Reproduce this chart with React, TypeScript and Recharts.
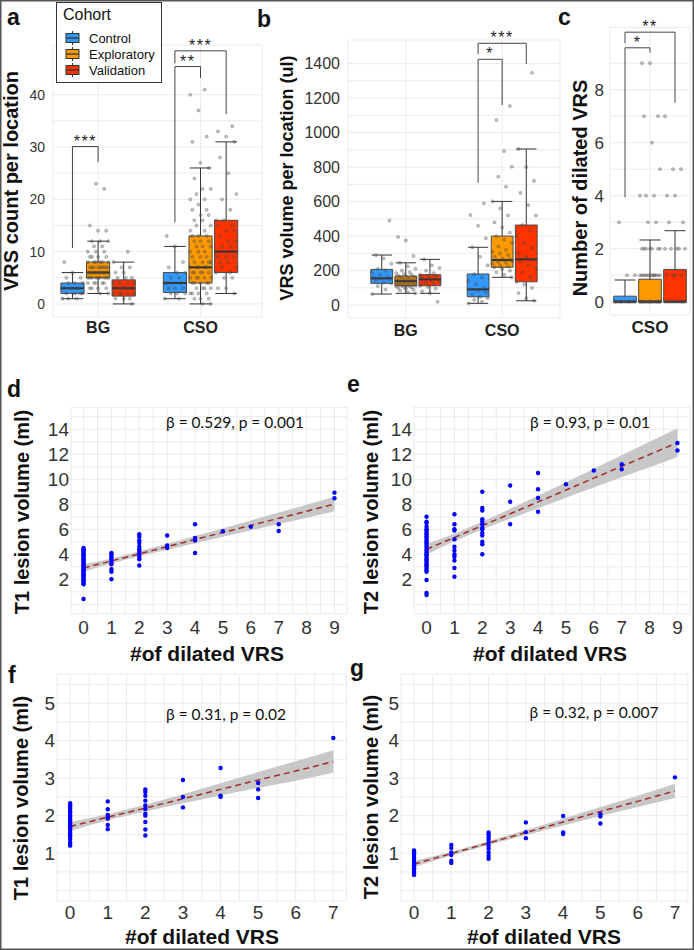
import React from 'react';
import {
  ComposedChart, Scatter, XAxis, YAxis, CartesianGrid, ReferenceArea,
  ReferenceLine, ReferenceDot, Area, Line, Legend,
} from 'recharts';

const FONT = "'Liberation Sans', Arial, sans-serif";

// ---------- categories ----------
const cohortNames = ['Control', 'Exploratory', 'Validation'];
const cohortColors = ['#3399FF', '#FF9900', '#FF3300'];
const locationNames = ['BG', 'CSO'];
const dilatedLocationNames = ['CSO'];

// ---------- panel a : VRS count per location ----------
// box stats per cohort: [min, q1, median, q3, max]
const countStatsBG = [[1, 2, 3, 4, 6], [2, 5, 6, 8, 12], [0, 1.5, 3, 4.6, 8]];
const countStatsCSO = [[1, 2.2, 4, 6, 11], [0, 4, 7, 13, 26], [2, 6, 10, 16, 31]];
const countPointsBG = [
  [1, 1, 1, 2, 2, 2, 2, 3, 3, 3, 3, 3, 3, 4, 4, 4, 5, 5, 6, 8],
  [2, 2, 3, 3, 3, 3, 4, 4, 4, 4, 4, 5, 5, 5, 5, 5, 5, 5, 5, 5, 6, 6, 6, 6, 6, 6, 6, 6, 6, 6, 6, 7, 7, 7, 7, 7, 7, 7, 7, 7, 8, 8, 8, 8, 8, 8, 9, 9, 9, 9, 10, 10, 10, 11, 11, 12, 12, 12, 14, 14, 15, 22, 23],
  [0, 1, 1, 1, 2, 2, 2, 2, 2, 3, 3, 3, 3, 3, 3, 3, 4, 4, 4, 4, 5, 5, 5, 6, 6, 7, 7, 8, 10],
];
const countPointsCSO = [
  [1, 1, 2, 2, 2, 3, 3, 3, 4, 4, 4, 4, 5, 5, 6, 6, 7, 8, 11, 13],
  [0, 0, 1, 1, 1, 2, 2, 2, 2, 3, 3, 3, 3, 4, 4, 4, 4, 4, 5, 5, 5, 5, 5, 6, 6, 6, 6, 6, 7, 7, 7, 7, 7, 8, 8, 8, 8, 9, 9, 9, 10, 10, 10, 11, 11, 11, 12, 12, 12, 13, 13, 13, 14, 14, 15, 15, 16, 16, 17, 17, 18, 18, 19, 20, 20, 21, 22, 22, 24, 26, 27, 31, 32, 37, 40, 41],
  [2, 3, 3, 5, 5, 6, 6, 7, 7, 8, 8, 9, 9, 9, 10, 10, 10, 11, 11, 12, 12, 13, 14, 14, 15, 15, 16, 16, 18, 20, 21, 25, 28, 31, 32, 33, 34],
];
const countTicks = [0, 5, 10, 15, 20, 25, 30, 35, 40];
const countLabels = [0, 10, 20, 30, 40];
const countBrackets = [
  { loc: 0, from: 0, to: 1, top: 30.1, leftEnd: 10.7, rightEnd: 27.1, label: '***' },
  { loc: 1, from: 0, to: 1, top: 45.4, leftEnd: 15.6, rightEnd: 43.2, label: '**' },
  { loc: 1, from: 0, to: 2, top: 48.4, leftEnd: 46.0, rightEnd: 36.3, label: '***' },
];

// ---------- panel b : VRS volume per location ----------
const volumeStatsBG = [[64, 126, 155, 207, 290], [68, 112, 139, 168, 245], [68, 112, 149, 176, 265]];
const volumeStatsCSO = [[10, 48, 91, 180, 335], [161, 219, 261, 400, 601], [25, 135, 265, 464, 905]];
const volumePointsBG = [
  [64, 90, 110, 125, 130, 140, 150, 155, 160, 165, 175, 190, 200, 210, 240, 270, 290, 490],
  [68, 75, 85, 90, 95, 100, 102, 105, 108, 110, 112, 114, 115, 118, 120, 122, 124, 125, 128, 130, 132, 134, 135, 137, 139, 140, 142, 144, 145, 148, 150, 152, 155, 158, 160, 163, 165, 168, 170, 175, 180, 185, 190, 200, 210, 225, 245, 285, 375, 395],
  [19, 68, 80, 95, 105, 112, 120, 128, 135, 140, 145, 149, 152, 158, 165, 170, 176, 185, 200, 215, 230, 265],
];
const volumePointsCSO = [
  [10, 20, 30, 40, 48, 60, 75, 85, 91, 100, 120, 140, 160, 180, 230, 280, 335, 387, 460, 522, 590],
  [161, 175, 190, 200, 210, 219, 225, 230, 240, 245, 250, 255, 260, 261, 265, 270, 280, 290, 300, 310, 320, 340, 360, 380, 400, 420, 450, 480, 520, 560, 601, 686, 744, 802, 893, 1073, 1154],
  [25, 40, 70, 100, 120, 135, 160, 190, 210, 230, 250, 265, 280, 300, 330, 360, 400, 430, 464, 520, 580, 650, 720, 800, 905, 1347],
];
const volumeTicks = [0, 100, 200, 300, 400, 500, 600, 700, 800, 900, 1000, 1100, 1200, 1300, 1400];
const volumeLabels = [0, 200, 400, 600, 800, 1000, 1200, 1400];
const volumeBrackets = [
  { loc: 1, from: 0, to: 2, top: 1518, leftEnd: 1454, rightEnd: 1398, label: '***' },
  { loc: 1, from: 0, to: 1, top: 1425, leftEnd: 709, rightEnd: 1160, label: '*' },
];

// ---------- panel c : number of dilated VRS ----------
const dilatedStatsCSO = [[0, 0, 0, 0.21, 0.82], [0, 0, 0, 0.85, 2.33], [0, 0, 0, 1.22, 2.68]];
const dilatedPointsCSO = [
  [0, 0, 0, 0, 0, 0, 0, 0, 0, 0, 0, 0, 0, 0, 1, 1, 3],
  [0, 0, 0, 0, 0, 0, 0, 0, 0, 0, 0, 0, 0, 0, 0, 0, 0, 0, 0, 0, 1, 1, 1, 1, 1, 1, 1, 1, 1, 1, 1, 1, 2, 2, 2, 2, 2, 2, 2, 3, 3, 4, 4, 4, 5, 6, 7, 7, 9, 9],
  [0, 0, 0, 0, 0, 0, 0, 0, 0, 0, 0, 0, 1, 1, 1, 1, 2, 2, 2, 2, 2, 3, 3, 4, 4, 5, 5, 7],
];
const dilatedTicks = [0, 1, 2, 3, 4, 5, 6, 7, 8, 9];
const dilatedLabels = [0, 2, 4, 6, 8];
const dilatedBrackets = [
  { loc: 0, from: 0, to: 2, top: 10.17, leftEnd: 9.75, rightEnd: 7.51, label: '**' },
  { loc: 0, from: 0, to: 1, top: 9.58, leftEnd: 3.94, rightEnd: 9.4, label: '*' },
];

// ---------- panels d-g : lesion volume vs # dilated VRS ----------
const fitX9 = [0, 1, 2, 3, 4, 5, 6, 7, 8, 9];
const fitX7 = [0, 1, 2, 3, 4, 5, 6, 7];
const t1FitA = [2.9, 3.47, 4.04, 4.61, 5.18, 5.75, 6.31, 6.88, 7.45, 8.02];
const t1LowA = [2.6, 3.27, 3.84, 4.37, 4.89, 5.41, 5.91, 6.42, 6.93, 7.44];
const t1HighA = [3.2, 3.67, 4.24, 4.85, 5.47, 6.09, 6.71, 7.34, 7.97, 8.6];
const t2FitA = [4.4, 5.35, 6.3, 7.24, 8.19, 9.14, 10.09, 11.04, 11.98, 12.93];
const t2LowA = [3.98, 5.05, 5.98, 6.84, 7.69, 8.52, 9.34, 10.16, 10.96, 11.78];
const t2HighA = [4.82, 5.65, 6.62, 7.64, 8.69, 9.76, 10.84, 11.92, 13.0, 14.08];
const t1FitB = [1.71, 1.96, 2.2, 2.45, 2.7, 2.95, 3.19, 3.44];
const t1LowB = [1.59, 1.88, 2.11, 2.33, 2.54, 2.74, 2.93, 3.14];
const t1HighB = [1.83, 2.04, 2.29, 2.57, 2.86, 3.16, 3.45, 3.74];
const t2FitB = [0.71, 0.99, 1.27, 1.55, 1.83, 2.11, 2.38, 2.66];
const t2LowB = [0.63, 0.94, 1.22, 1.48, 1.74, 1.99, 2.23, 2.47];
const t2HighB = [0.79, 1.04, 1.32, 1.62, 1.92, 2.23, 2.53, 2.85];

// points grouped by # of dilated VRS: [x, [volumes]]
const t1PointsA: [number, number[]][] = [
  [0, [0.42, 1.6, 1.7, 1.8, 1.9, 2.0, 2.1, 2.2, 2.3, 2.4, 2.5, 2.6, 2.7, 2.8, 2.9, 3.0, 3.1, 3.2, 3.3, 3.4, 3.5, 3.6, 3.7, 3.8, 3.9, 4.0, 4.1, 4.2, 4.3, 4.4, 4.5]],
  [1, [4.1, 4.0, 3.8, 3.7, 3.5, 3.3, 3.2, 2.8, 2.6, 2.0]],
  [2, [5.6, 5.4, 5.1, 4.9, 4.6, 4.4, 4.2, 4.0, 3.8, 3.6, 3.1]],
  [3, [5.5, 4.7, 4.5]],
  [4, [6.4, 5.3, 5.1, 4.1]],
  [5, [5.85]],
  [6, [6.2]],
  [7, [6.4, 5.86]],
  [9, [8.93, 8.48]],
];
const t2PointsA: [number, number[]][] = [
  [0, [0.75, 0.9, 1.95, 2.6, 2.7, 2.85, 3.0, 3.1, 3.2, 3.35, 3.5, 3.6, 3.75, 3.9, 4.0, 4.15, 4.3, 4.45, 4.6, 4.75, 4.9, 5.0, 5.15, 5.3, 5.45, 5.6, 5.75, 5.9, 6.0, 6.2, 6.5, 6.6, 7.0]],
  [1, [7.2, 6.4, 6.0, 5.9, 5.2, 4.6, 4.3, 4.0, 3.8, 3.5, 2.9, 2.2]],
  [2, [9.0, 7.7, 7.5, 6.8, 6.6, 6.4, 6.1, 6.0, 5.7, 5.5, 5.0, 4.8, 4.0]],
  [3, [9.5, 8.2, 6.4]],
  [4, [10.5, 9.2, 8.5, 7.4]],
  [5, [9.6]],
  [6, [10.7]],
  [7, [11.2, 10.8]],
  [9, [12.9, 12.3]],
];
const t1PointsB: [number, number[]][] = [
  [0, [1.2, 1.25, 1.3, 1.38, 1.45, 1.5, 1.55, 1.62, 1.68, 1.72, 1.78, 1.82, 1.88, 1.92, 1.98, 2.02, 2.08, 2.12, 2.18, 2.22, 2.28, 2.33]],
  [1, [2.38, 2.17, 2.02, 1.96, 1.92, 1.75, 1.64]],
  [2, [2.7, 2.63, 2.53, 2.4, 2.27, 2.18, 2.05, 2.0, 1.83, 1.63, 1.47]],
  [3, [2.95, 2.5, 2.22]],
  [4, [3.27, 2.53, 2.5]],
  [5, [2.87, 2.7, 2.47]],
  [7, [4.07]],
];
const t2PointsB: [number, number[]][] = [
  [0, [0.42, 0.45, 0.5, 0.55, 0.6, 0.63, 0.68, 0.72, 0.77, 0.82, 0.86, 0.9, 0.95, 1.0, 1.04, 1.07]],
  [1, [1.22, 1.14, 1.02, 0.95, 0.8, 0.74]],
  [2, [1.55, 1.5, 1.43, 1.36, 1.28, 1.2, 1.12, 1.02, 0.93, 0.85]],
  [3, [1.82, 1.56, 1.4]],
  [4, [1.99, 1.55, 1.51]],
  [5, [2.04, 1.98, 1.79]],
  [7, [3.02]],
];

const ticks9 = [0, 0.5, 1, 1.5, 2, 2.5, 3, 3.5, 4, 4.5, 5, 5.5, 6, 6.5, 7, 7.5, 8, 8.5, 9];
const ticks7 = [0, 0.5, 1, 1.5, 2, 2.5, 3, 3.5, 4, 4.5, 5, 5.5, 6, 6.5, 7];
const volTicksA = [0, 1, 2, 3, 4, 5, 6, 7, 8, 9, 10, 11, 12, 13, 14, 15];
const volLabelsA = [2, 4, 6, 8, 10, 12, 14];
const volTicksB = [0, 0.5, 1, 1.5, 2, 2.5, 3, 3.5, 4, 4.5, 5, 5.5];
const volLabelsB = [1, 2, 3, 4, 5];

// ---------- helpers ----------
const DODGE = 0.25;
const BOX_HALF = 0.113;
const CAP_HALF = 0.105;
const jitterOffset = (i: number) => ((((i * 7) % 11) / 10) - 0.5) * 0.2;

function boxElements(prefix: string, statsByLoc: number[][][]) {
  const out: React.ReactElement[] = [];
  statsByLoc.forEach((cohortStats, li) => {
    cohortStats.forEach((s, ci) => {
      const cx = li + 1 + (ci - 1) * DODGE;
      const [mn, q1, md, q3, mx] = s;
      const k = `${prefix}-${li}-${ci}`;
      const ln = { stroke: '#333', strokeWidth: 1, ifOverflow: 'visible' as const };
      out.push(<ReferenceLine key={k + 'wl'} segment={[{ x: cx, y: mn }, { x: cx, y: q1 }]} {...ln} />);
      out.push(<ReferenceLine key={k + 'wu'} segment={[{ x: cx, y: q3 }, { x: cx, y: mx }]} {...ln} />);
      out.push(<ReferenceLine key={k + 'cl'} segment={[{ x: cx - CAP_HALF, y: mn }, { x: cx + CAP_HALF, y: mn }]} {...ln} />);
      out.push(<ReferenceLine key={k + 'cu'} segment={[{ x: cx - CAP_HALF, y: mx }, { x: cx + CAP_HALF, y: mx }]} {...ln} />);
      out.push(
        <ReferenceArea key={k + 'b'} x1={cx - BOX_HALF} x2={cx + BOX_HALF} y1={q1} y2={q3}
          fill={cohortColors[ci]} fillOpacity={1} stroke="#4a4a4a" strokeWidth={1} ifOverflow="visible" />,
      );
      out.push(<ReferenceLine key={k + 'm'} segment={[{ x: cx - BOX_HALF, y: md }, { x: cx + BOX_HALF, y: md }]} stroke="#333" strokeWidth={2} ifOverflow="visible" />);
    });
  });
  return out;
}

function bracketElements(prefix: string, list: typeof countBrackets) {
  const out: React.ReactElement[] = [];
  list.forEach((b, i) => {
    const x1 = b.loc + 1 + (b.from - 1) * DODGE;
    const x2 = b.loc + 1 + (b.to - 1) * DODGE;
    const ln = { stroke: '#444', strokeWidth: 1, ifOverflow: 'visible' as const };
    const k = `${prefix}-br-${i}`;
    out.push(<ReferenceLine key={k + 'l'} segment={[{ x: x1, y: b.leftEnd }, { x: x1, y: b.top }]} {...ln} />);
    out.push(<ReferenceLine key={k + 't'} segment={[{ x: x1, y: b.top }, { x: x2, y: b.top }]} {...ln} />);
    out.push(<ReferenceLine key={k + 'r'} segment={[{ x: x2, y: b.top }, { x: x2, y: b.rightEnd }]} {...ln} />);
    out.push(
      <ReferenceDot key={k + 's'} x={(x1 + x2) / 2} y={b.top} r={0} fill="none" stroke="none" ifOverflow="visible"
        label={{ value: b.label, position: 'top', offset: 0, fontSize: 16, fill: '#222', letterSpacing: 1.5 }} />,
    );
  });
  return out;
}

function jitterRows(pointsByLoc: number[][][]) {
  const rows: { x: number; y: number }[] = [];
  pointsByLoc.forEach((cohortPts, li) => cohortPts.forEach((vals, ci) => vals.forEach((v, i) => {
    rows.push({ x: li + 1 + (ci - 1) * DODGE + jitterOffset(i + ci * 3), y: v });
  })));
  return rows;
}

function scatterRows(groups: [number, number[]][]) {
  const rows: { x: number; y: number }[] = [];
  groups.forEach(([x, vals]) => vals.forEach((v) => rows.push({ x, y: v })));
  return rows;
}

function fitRows(xs: number[], fit: number[], lo: number[], hi: number[]) {
  return xs.map((x, i) => ({ x, fit: fit[i], band: [lo[i], hi[i]] }));
}

const GrayDot = (p: any) => (
  <circle cx={p.cx} cy={p.cy} r={1.6} fill="#555" fillOpacity={0.35} stroke="#333" strokeOpacity={0.4} strokeWidth={0.6} />
);
const BlueDot = (p: any) => <circle cx={p.cx} cy={p.cy} r={2.2} fill="#0000FF" />;

const CohortLegend = () => (
  <div style={{ border: '1px solid #333', background: '#fff', width: 106, height: 81, boxSizing: 'border-box', padding: '2px 0 0 6px', fontFamily: FONT, color: '#111' }}>
    <div style={{ fontSize: 16, lineHeight: '20px', height: 20 }}>Cohort</div>
    <div style={{ height: 5 }} />
    {cohortNames.map((c, i) => (
      <div key={c} style={{ display: 'flex', alignItems: 'center', height: 16, fontSize: 13 }}>
        <svg width={22} height={16} style={{ display: 'block' }}>
          <line x1={9.5} y1={1} x2={9.5} y2={15} stroke="#333" strokeWidth={1} />
          <rect x={3} y={3.5} width={13} height={9} fill={cohortColors[i]} stroke="#333" strokeWidth={1} />
          <line x1={3} x2={16} y1={8} y2={8} stroke="#333" strokeWidth={1.3} />
        </svg>
        <span style={{ marginLeft: 4 }}>{c}</span>
      </div>
    ))}
  </div>
);

type BoxPanelProps = {
  left: number; top: number; width: number; height: number;
  margin: { top: number; right: number; bottom: number; left: number };
  yWidth: number; xHeight: number; xDomain: number[]; categories: string[];
  yDomain: number[]; yTicks: number[]; yLabels: number[];
  tickFont: number; catFont: number; yTickMargin: number; xTickMargin: number;
  stats: number[][][]; points: number[][][]; bracketList: typeof countBrackets; legend?: boolean; id: string;
};

function BoxPanel(p: BoxPanelProps) {
  return (
    <div style={{ position: 'absolute', left: p.left, top: p.top }}>
      <ComposedChart width={p.width} height={p.height} margin={p.margin}>
        <CartesianGrid stroke="#ebebeb" strokeWidth={1} />
        <XAxis type="number" dataKey="x" domain={p.xDomain} allowDataOverflow ticks={p.categories.map((_, i) => i + 1)} interval={0}
          tickFormatter={(v: number) => p.categories[Math.round(v) - 1] ?? ''} axisLine={false} tickLine={false} tickSize={0}
          tickMargin={p.xTickMargin} height={p.xHeight} tick={{ fontSize: p.catFont, fontWeight: 'bold', fill: '#222' }} />
        <YAxis type="number" domain={p.yDomain} allowDataOverflow ticks={p.yTicks} interval={0}
          tickFormatter={(v: number) => (p.yLabels.includes(v) ? String(v) : '')} axisLine={false} tickLine={false} tickSize={0}
          tickMargin={p.yTickMargin} width={p.yWidth} tick={{ fontSize: p.tickFont, fill: '#333' }} />
        {boxElements(p.id, p.stats)}
        {bracketElements(p.id, p.bracketList)}
        <Scatter data={jitterRows(p.points)} dataKey="y" shape={GrayDot} isAnimationActive={false} />
        {p.legend ? (
          <Legend content={CohortLegend} layout="vertical" align="center" verticalAlign="middle"
            wrapperStyle={{ position: 'absolute', left: 56, top: 2, width: 106, height: 81 }} />
        ) : null}
      </ComposedChart>
    </div>
  );
}

type RegPanelProps = {
  left: number; top: number; width: number; height: number;
  margin: { top: number; right: number; bottom: number; left: number };
  yWidth: number; xHeight: number; xDomain: number[]; xTicks: number[]; xTickMargin: number;
  yDomain: number[]; yTicks: number[]; yLabels: number[];
  rows: { x: number; fit: number; band: number[] }[]; points: { x: number; y: number }[];
};

function RegPanel(p: RegPanelProps) {
  return (
    <div style={{ position: 'absolute', left: p.left, top: p.top }}>
      <ComposedChart width={p.width} height={p.height} margin={p.margin} data={p.rows}>
        <CartesianGrid stroke="#ebebeb" strokeWidth={1} />
        <XAxis type="number" dataKey="x" domain={p.xDomain} allowDataOverflow ticks={p.xTicks} interval={0}
          tickFormatter={(v: number) => (Number.isInteger(v) ? String(v) : '')} axisLine={false} tickLine={false} tickSize={0}
          tickMargin={p.xTickMargin} height={p.xHeight} tick={{ fontSize: 19, fill: '#333' }} />
        <YAxis type="number" domain={p.yDomain} allowDataOverflow ticks={p.yTicks} interval={0}
          tickFormatter={(v: number) => (p.yLabels.includes(v) ? String(v) : '')} axisLine={false} tickLine={false} tickSize={0}
          tickMargin={2} width={p.yWidth} tick={{ fontSize: 19, fill: '#333' }} />
        <Area dataKey="band" type="monotone" stroke="none" fill="#c8c8c8" fillOpacity={1} isAnimationActive={false} />
        <Scatter data={p.points} dataKey="y" shape={BlueDot} isAnimationActive={false} />
        <Line dataKey="fit" type="linear" stroke="#A52A2A" strokeWidth={1.5} strokeDasharray="6 4" dot={false} isAnimationActive={false} />
      </ComposedChart>
    </div>
  );
}

const titleStyle = { fontFamily: FONT, fontWeight: 'bold' as const, fill: '#111' };

function RotTitle({ x, y, size, text }: { x: number; y: number; size: number; text: string }) {
  return (
    <text transform={`translate(${x},${y}) rotate(-90)`} textAnchor="middle" dominantBaseline="central" fontSize={size} {...titleStyle}>{text}</text>
  );
}

export default function App() {
  return (
    <div style={{ position: 'absolute', left: 0, top: 0, width: 694, height: 950, background: '#fff', fontFamily: FONT, overflow: 'hidden' }}>
      <BoxPanel id="a" left={0} top={0} width={268} height={340} margin={{ top: 45.1, right: 6, bottom: 0, left: 0 }}
        yWidth={53} xHeight={23} xDomain={[0.56, 2.6]} categories={locationNames}
        yDomain={[-2.5, 49.5]} yTicks={countTicks} yLabels={countLabels} tickFont={14} catFont={16}
        yTickMargin={8} xTickMargin={4.3} stats={[countStatsBG, countStatsCSO]} points={[countPointsBG, countPointsCSO]}
        bracketList={countBrackets} legend />
      <BoxPanel id="b" left={270} top={0} width={292} height={340} margin={{ top: 40, right: 2, bottom: 0, left: 0 }}
        yWidth={78} xHeight={22} xDomain={[0.4, 2.6]} categories={locationNames}
        yDomain={[-75, 1537]} yTicks={volumeTicks} yLabels={volumeLabels} tickFont={16} catFont={16}
        yTickMargin={8} xTickMargin={7} stats={[volumeStatsBG, volumeStatsCSO]} points={[volumePointsBG, volumePointsCSO]}
        bracketList={volumeBrackets} />
      <BoxPanel id="c" left={562} top={0} width={132} height={340} margin={{ top: 27.4, right: 4, bottom: 0, left: 0 }}
        yWidth={48} xHeight={25} xDomain={[0.6, 1.4]} categories={dilatedLocationNames}
        yDomain={[-0.5, 10.35]} yTicks={dilatedTicks} yLabels={dilatedLabels} tickFont={17} catFont={17}
        yTickMargin={6} xTickMargin={6} stats={[dilatedStatsCSO]} points={[dilatedPointsCSO]}
        bracketList={dilatedBrackets} />

      <RegPanel left={0} top={360} width={350} height={300} margin={{ top: 47.4, right: 3, bottom: 0, left: 0 }}
        yWidth={71} xHeight={46.3} xDomain={[-0.45, 9.45]} xTicks={ticks9} xTickMargin={7} yDomain={[-0.75, 15.75]} yTicks={volTicksA} yLabels={volLabelsA}
        rows={fitRows(fitX9, t1FitA, t1LowA, t1HighA)} points={scatterRows(t1PointsA)} />
      <RegPanel left={350} top={360} width={344} height={300} margin={{ top: 47.4, right: 4, bottom: 0, left: 0 }}
        yWidth={64} xHeight={46.3} xDomain={[-0.45, 9.45]} xTicks={ticks9} xTickMargin={7} yDomain={[-0.75, 15.75]} yTicks={volTicksA} yLabels={volLabelsA}
        rows={fitRows(fitX9, t2FitA, t2LowA, t2HighA)} points={scatterRows(t2PointsA)} />
      <RegPanel left={0} top={660} width={350} height={290} margin={{ top: 14, right: 3.5, bottom: 0, left: 0 }}
        yWidth={57} xHeight={49} xDomain={[-0.35, 7.35]} xTicks={ticks7} xTickMargin={5} yDomain={[-0.275, 5.775]} yTicks={volTicksB} yLabels={volLabelsB}
        rows={fitRows(fitX7, t1FitB, t1LowB, t1HighB)} points={scatterRows(t1PointsB)} />
      <RegPanel left={350} top={660} width={344} height={290} margin={{ top: 14, right: 6, bottom: 0, left: 0 }}
        yWidth={51} xHeight={49} xDomain={[-0.35, 7.35]} xTicks={ticks7} xTickMargin={5} yDomain={[-0.275, 5.775]} yTicks={volTicksB} yLabels={volLabelsB}
        rows={fitRows(fitX7, t2FitB, t2LowB, t2HighB)} points={scatterRows(t2PointsB)} />

      <svg width={694} height={950} style={{ position: 'absolute', left: 0, top: 0, pointerEvents: 'none' }}>
        <rect x={0.75} y={0.75} width={692.5} height={948.5} fill="none" stroke="#555" strokeWidth={1.5} />
        <g fontSize={23} {...titleStyle}>
          <text x={7} y={25}>a</text>
          <text x={257} y={27}>b</text>
          <text x={558} y={25}>c</text>
          <text x={7} y={397}>d</text>
          <text x={347} y={392}>e</text>
          <text x={8} y={683}>f</text>
          <text x={350} y={676}>g</text>
        </g>
        <RotTitle x={11} y={181} size={20} text="VRS count per location" />
        <RotTitle x={287} y={178} size={18} text="VRS volume per location (ul)" />
        <RotTitle x={580} y={188} size={20} text="Number of dilated VRS" />
        <RotTitle x={22} y={512} size={20} text="T1 lesion volume (ml)" />
        <RotTitle x={371} y={512} size={20} text="T2 lesion volume (ml)" />
        <RotTitle x={21} y={798} size={20} text="T1 lesion volume (ml)" />
        <RotTitle x={371} y={797} size={20} text="T2 lesion volume (ml)" />
        <g fontSize={21} textAnchor="middle" dominantBaseline="central" {...titleStyle}>
          <text x={207} y={653}>#of dilated VRS</text>
          <text x={550} y={653}>#of dilated VRS</text>
          <text x={202} y={936}>#of dilated VRS</text>
          <text x={544} y={936}>#of dilated VRS</text>
        </g>
        <g fontSize={15.5} textAnchor="middle" dominantBaseline="central" fontFamily="Lato, 'Open Sans', sans-serif" fill="#111">
          <text x={235} y={422}>β = 0.529, p = 0.001</text>
          <text x={590} y={422}>β = 0.93, p = 0.01</text>
          <text x={226} y={714}>β = 0.31, p = 0.02</text>
          <text x={594} y={712}>β = 0.32, p = 0.007</text>
        </g>
      </svg>
    </div>
  );
}
